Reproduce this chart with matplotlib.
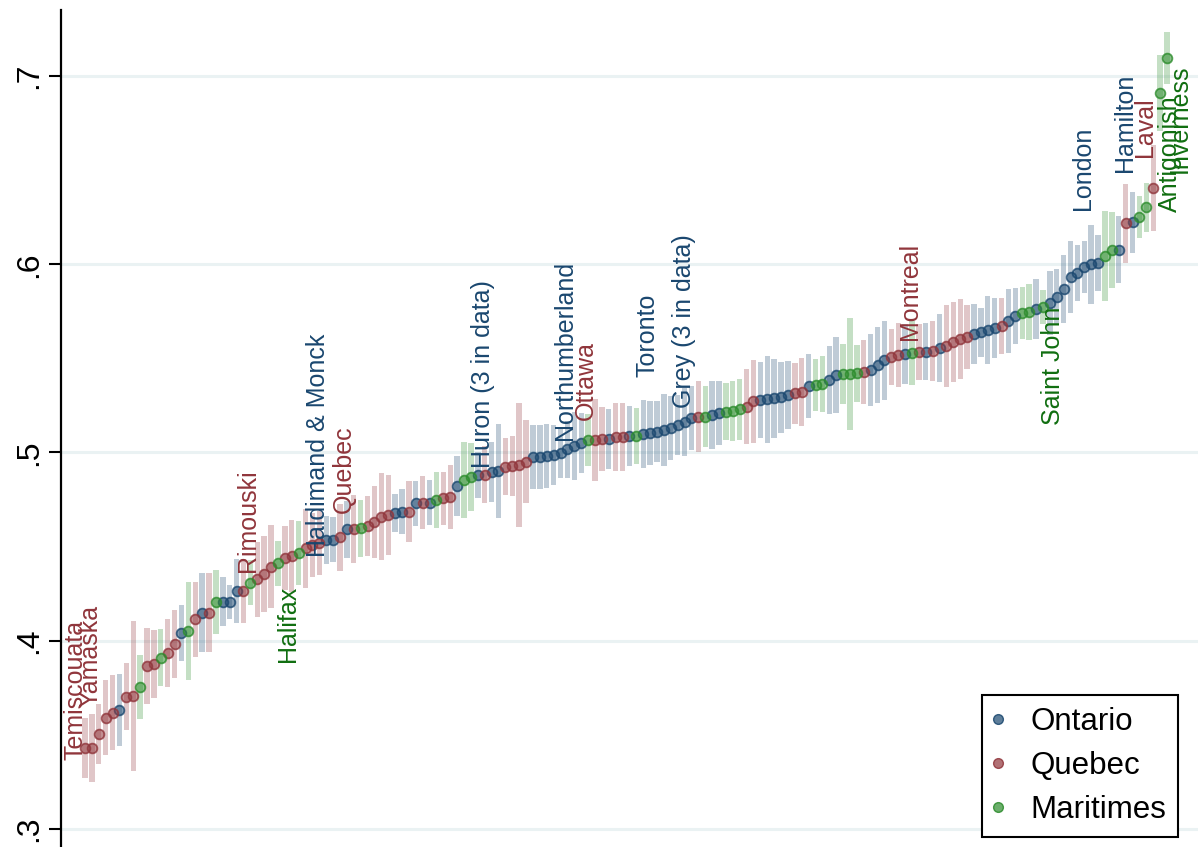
import matplotlib
matplotlib.use("Agg")
import matplotlib.pyplot as plt
from matplotlib.lines import Line2D

plt.rcParams["font.family"] = ["Liberation Sans", "DejaVu Sans"]

# Estimated share per census district, sorted ascending
values = [
    .3429, .3429, .3505, .3591, .3618, .3632, .3703, .3707, .3756, .3866,
    .3877, .3910, .3933, .3981, .4040, .4052, .4114, .4149, .4149, .4206,
    .4206, .4206, .4264, .4264, .4308, .4326, .4355, .4393, .4411, .4438,
    .4450, .4465, .4491, .4509, .4518, .4535, .4537, .4549, .4592, .4592,
    .4597, .4610, .4630, .4659, .4668, .4680, .4686, .4686, .4730, .4733,
    .4733, .4748, .4757, .4762, .4822, .4854, .4871, .4880, .4882, .4895,
    .4904, .4925, .4928, .4934, .4951, .4974, .4978, .4981, .4987, .4996,
    .5017, .5035, .5052, .5066, .5066, .5070, .5072, .5084, .5084, .5088,
    .5088, .5098, .5102, .5111, .5120, .5129, .5146, .5164, .5182, .5191,
    .5191, .5199, .5208, .5217, .5222, .5229, .5243, .5272, .5279, .5283,
    .5288, .5293, .5305, .5314, .5323, .5353, .5359, .5364, .5385, .5412,
    .5417, .5417, .5420, .5429, .5438, .5465, .5491, .5507, .5518, .5523,
    .5529, .5534, .5536, .5540, .5555, .5566, .5587, .5603, .5614, .5629,
    .5640, .5651, .5661, .5672, .5699, .5725, .5741, .5746, .5762, .5773,
    .5794, .5826, .5869, .5932, .5954, .5985, .6001, .6007, .6044, .6076,
    .6078, .6219, .6222, .6251, .6304, .6405, .6910, .7096,
]

# Half-width of the confidence interval for each district
half_ci = [
    .016, .018, .016, .020, .020, .019, .018, .040, .017, .020,
    .018, .015, .018, .018, .015, .026, .020, .021, .021, .017,
    .013, .009, .017, .017, .012, .020, .020, .022, .012, .017,
    .019, .017, .021, .017, .017, .013, .012, .018, .015, .018,
    .015, .016, .019, .023, .021, .010, .012, .016, .012, .014,
    .012, .015, .014, .017, .016, .020, .018, .012, .015, .016,
    .025, .015, .016, .033, .022, .017, .017, .017, .016, .013,
    .015, .018, .016, .014, .022, .017, .016, .018, .018, .016,
    .015, .018, .017, .016, .019, .017, .016, .018, .017, .019,
    .016, .018, .017, .015, .016, .016, .020, .022, .020, .023,
    .021, .019, .018, .016, .018, .017, .014, .015, .018, .020,
    .016, .030, .015, .017, .019, .020, .021, .015, .017, .016,
    .017, .015, .015, .016, .018, .022, .021, .021, .017, .016,
    .013, .018, .016, .015, .017, .015, .014, .015, .016, .009,
    .017, .015, .018, .019, .015, .014, .021, .015, .024, .020,
    .018, .021, .016, .011, .013, .023, .020, .014,
]

# Region of each district: O = Ontario, Q = Quebec, M = Maritimes
region_codes = (
    "QQQQQOQQMQ" "QMQQOMQOQM" "OOOQMQQQMQ" "QMQQQOOQOQ"
    "MQQQQOOQOQ" "OMQQOMMOQO" "OQQQQOOOOO" "OOOMQQOQQO"
    "MOOOOOOOOQ" "MOOMMMQQOO" "OOOQQOMMOO" "MMMQOOOQQO"
    "MQOQOQQQQO" "OOOQOOMMOM" "OOOOOOOOMM" "OQOMMQMM"
)

region_names = {"O": "Ontario", "Q": "Quebec", "M": "Maritimes"}
region_order = ["O", "Q", "M"]

# Named districts: (name, position in sorted order, side)
district_labels = [
    ("Temiscouata", 0, "above"),
    ("Yamaska", 2, "above"),
    ("Rimouski", 25, "above"),
    ("Halifax", 28, "below"),
    ("Haldimand & Monck", 35, "above"),
    ("Quebec", 39, "above"),
    ("Huron (3 in data)", 59, "above"),
    ("Northumberland", 71, "above"),
    ("Ottawa", 74, "above"),
    ("Toronto", 83, "above"),
    ("Grey (3 in data)", 88, "above"),
    ("Montreal", 121, "above"),
    ("Saint John", 139, "below"),
    ("London", 146, "above"),
    ("Hamilton", 152, "above"),
    ("Laval", 155, "above"),
    ("Antigonish", 156, "below"),
    ("Inverness", 157, "below"),
]
# Pixel offsets of each label from its marker
label_offsets = {
    "Temiscouata": (-9, -12), "Yamaska": (-8, 27), "Rimouski": (-9, 7),
    "Halifax": (10, -22), "Haldimand & Monck": (-8, -17), "Quebec": (-10, 16),
    "Huron (3 in data)": (-9, 4), "Northumberland": (-9, 6), "Ottawa": (-9, 20),
    "Toronto": (-9, 55), "Grey (3 in data)": (-7, 10), "Montreal": (-9, 12),
    "Saint John": (10, 0), "London": (-8, 54), "Hamilton": (-8, 50),
    "Laval": (-8, 31), "Antigonish": (10, -2), "Inverness": (13, -7),
}

marker_colors = {"O": (26/255, 71/255, 111/255),
                 "Q": (144/255, 53/255, 59/255),
                 "M": (44/255, 140/255, 44/255)}
text_colors = {"O": (26/255, 71/255, 111/255),
               "Q": (144/255, 53/255, 59/255),
               "M": (16/255, 110/255, 16/255)}


def with_alpha(rgb, a):
    return (rgb[0], rgb[1], rgb[2], a)


W, H = 1198, 847
fig = plt.figure(figsize=(W / 100, H / 100), dpi=100)
ax = fig.add_axes([61 / W, 0, 1 - 61 / W, (H - 10) / H])

xs = list(range(len(values)))

# Confidence bands as light translucent bars
for code in region_order:
    idx = [i for i in xs if region_codes[i] == code]
    ax.bar(idx,
           [2 * half_ci[i] for i in idx],
           bottom=[values[i] - half_ci[i] for i in idx],
           width=0.78, color=marker_colors[code], alpha=0.28,
           linewidth=0, zorder=2)

# Point estimates: translucent fill with a stronger outline
for code in region_order:
    idx = [i for i in xs if region_codes[i] == code]
    ax.plot(idx, [values[i] for i in idx], "o", linestyle="none",
            mfc=with_alpha(marker_colors[code], 0.55),
            mec=with_alpha(marker_colors[code], 0.8),
            markersize=7.0, markeredgewidth=1.3, zorder=3)

# District names
for name, i, side in district_labels:
    dx, dy = label_offsets[name]
    ax.annotate(name, xy=(i, values[i]), xytext=(dx, dy),
                textcoords="offset pixels", rotation=90,
                ha="center", va="bottom" if side == "above" else "top",
                fontsize=18, color=text_colors[region_codes[i]], zorder=4)

ax.set_xlim(-3.48, 161.5)
ax.set_ylim(0.2904, 0.7351)
ax.set_yticks([.3, .4, .5, .6, .7])
ax.set_yticklabels([".3", ".4", ".5", ".6", ".7"], rotation=90, va="center",
                   fontsize=23)
ax.set_xticks([])
ax.tick_params(axis="y", direction="out", length=9, width=1.5, pad=3,
               color="black")
ax.yaxis.grid(True, color="#eaf2f3", linewidth=2.2)
ax.set_axisbelow(True)
for side in ["top", "right", "bottom"]:
    ax.spines[side].set_visible(False)
ax.spines["left"].set_linewidth(1.6)

handles = [Line2D([], [], marker="o", linestyle="none",
                  mfc=with_alpha(marker_colors[c], 0.7),
                  mec=with_alpha(marker_colors[c], 0.85),
                  markersize=7, markeredgewidth=1.0, label=region_names[c])
           for c in region_order]
leg = ax.legend(handles=handles, loc="lower right",
                bbox_to_anchor=(1178 / W, 1 - 837 / H),
                bbox_transform=fig.transFigure,
                fontsize=22.5, frameon=True, fancybox=False, framealpha=1,
                edgecolor="black", handlelength=0.25, handletextpad=0.9,
                borderpad=0.38, labelspacing=0.45, borderaxespad=0)
leg.get_frame().set_linewidth(1.5)
leg.set_zorder(5)

fig.savefig("out.png", dpi=100)
